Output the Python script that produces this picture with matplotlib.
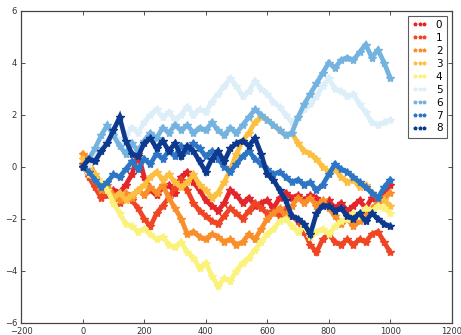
import matplotlib
matplotlib.use("Agg")
import matplotlib.pyplot as plt
from matplotlib.lines import Line2D

# sample positions (every 20 steps of the walk)
steps = list(range(0, 1001, 20))

walk_0 = [0.0, -0.3, -0.6, -1.0, -1.1, -0.9, -1.0, -0.7, -0.3, 0.5, -0.4, -0.9, -1.1,
          -0.8, -0.7, -1.0, -0.4, -0.2, -0.6, -0.9, -1.3, -1.5, -1.7, -1.4, -0.9, -1.1,
          -1.4, -1.2, -1.5, -1.4, -1.3, -1.6, -1.2, -1.0, -1.2, -1.1, -1.3, -1.1, -1.2,
          -1.4, -1.3, -1.6, -1.4, -1.7, -1.5, -1.3, -1.6, -1.2, -1.4, -1.0, -0.7]
walk_1 = [0.1, -0.4, -0.8, -1.2, -1.0, -1.2, -1.4, -1.1, -1.3, -1.6, -2.0, -2.3, -1.8,
          -1.5, -1.2, -0.8, -0.5, -0.9, -1.4, -1.7, -1.9, -2.1, -2.2, -1.9, -1.6, -1.8,
          -2.0, -1.7, -1.4, -1.6, -1.8, -1.7, -1.9, -1.6, -1.9, -2.1, -2.5, -3.0, -3.3,
          -2.8, -2.6, -2.9, -3.0, -2.8, -3.0, -2.8, -2.9, -2.6, -2.5, -2.9, -3.3]
walk_2 = [0.5, 0.3, -0.4, -0.9, -0.7, -1.1, -1.3, -1.0, -1.2, -0.9, -1.1, -0.8, -1.0,
          -0.7, -1.2, -1.6, -2.0, -2.6, -2.5, -2.7, -2.8, -2.6, -2.7, -2.9, -2.8, -3.0,
          -2.9, -2.6, -2.8, -2.4, -2.0, -1.8, -1.6, -1.9, -1.5, -1.2, -1.4, -1.2, -1.5,
          -1.3, -1.6, -1.9, -2.2, -2.0, -2.3, -2.1, -1.8, -1.6, -1.4, -1.2, -1.0]
walk_3 = [0.3, 0.0, -0.3, -0.6, -0.9, -1.2, -1.0, -1.3, -1.1, -0.9, -0.7, -0.4, -0.2,
          -0.5, -0.3, -0.6, -0.8, -0.6, -0.3, -0.7, -0.9, -1.2, -1.0, -0.6, -0.1, 0.5,
          1.0, 1.3, 1.7, 1.9, 1.8, 1.6, 1.4, 1.2, 1.3, 0.9, 0.6, 0.5, 0.3,
          0.0, -0.2, -0.1, -0.4, -0.6, -0.5, -0.8, -0.7, -1.0, -1.2, -1.3, -1.5]
walk_4 = [0.0, -0.3, -0.5, -0.6, -0.9, -1.4, -1.8, -2.2, -2.3, -2.5, -2.4, -2.6, -2.8,
          -2.7, -3.0, -3.1, -2.9, -3.3, -3.5, -3.9, -3.7, -4.2, -4.6, -4.3, -4.4, -4.0,
          -3.7, -3.5, -3.2, -2.9, -2.6, -2.4, -2.1, -2.0, -2.3, -2.5, -2.3, -2.7, -2.5,
          -2.4, -2.6, -2.3, -2.1, -2.0, -1.8, -1.9, -1.6, -1.7, -1.5, -1.6, -1.8]
walk_5 = [0.0, 0.1, 0.4, 0.7, 1.0, 1.3, 1.0, 1.2, 1.5, 1.3, 1.7, 2.0, 2.2,
          1.9, 2.1, 1.8, 2.0, 2.3, 2.0, 2.2, 2.1, 2.5, 2.8, 3.1, 3.4, 3.1,
          2.7, 2.9, 3.3, 3.0, 2.8, 2.5, 2.3, 2.0, 1.7, 1.9, 2.2, 2.4, 2.7,
          3.1, 3.4, 3.0, 2.9, 2.7, 2.8, 2.4, 2.1, 1.7, 1.6, 1.7, 1.8]
walk_6 = [0.0, 0.3, 0.7, 1.2, 1.6, 1.2, 0.8, 0.5, 0.9, 0.6, 1.0, 1.3, 1.1,
          1.5, 1.3, 1.6, 1.4, 1.6, 1.3, 1.5, 1.4, 1.7, 1.4, 1.2, 1.5, 1.3,
          1.6, 1.9, 2.2, 2.0, 1.8, 1.6, 1.4, 1.2, 1.3, 1.9, 2.4, 2.8, 3.2,
          3.6, 4.0, 3.8, 4.1, 4.2, 4.1, 4.4, 4.7, 4.2, 4.5, 4.0, 3.4]
walk_7 = [0.0, -0.2, -0.5, -0.8, -0.6, -0.3, -0.4, -0.1, 0.2, -0.1, 0.3, 0.1, 0.5,
          0.3, 0.6, 0.4, 0.8, 0.6, 0.9, 0.7, 0.4, 0.6, 0.3, 0.0, -0.2, 0.1,
          0.4, 0.6, 0.3, 0.1, -0.1, -0.3, -0.2, -0.4, -0.6, -0.5, -0.7, -0.6, -0.9,
          -0.7, -0.3, 0.1, -0.1, -0.2, -0.4, -0.6, -0.8, -1.0, -1.2, -0.8, -0.5]
walk_8 = [0.0, 0.3, 0.2, 0.6, 0.9, 1.4, 1.9, 1.0, 0.5, 0.4, 0.9, 1.1, 0.7,
          1.0, 0.6, 0.9, 0.4, 0.8, 0.6, 0.2, -0.2, 0.3, 0.6, 0.2, 0.7, 0.9,
          1.0, 0.8, 1.1, 0.5, -0.3, -0.5, -0.9, -1.3, -1.9, -2.0, -2.2, -2.6, -1.8,
          -1.5, -1.5, -1.7, -1.6, -1.9, -2.0, -1.8, -2.1, -1.8, -2.0, -2.2, -2.3]

walks = [walk_0, walk_1, walk_2, walk_3, walk_4, walk_5, walk_6, walk_7, walk_8]
labels = ["0", "1", "2", "3", "4", "5", "6", "7", "8"]
colors = ["#e3262b", "#f04524", "#f98e2b", "#fdbf3f", "#fbf27b",
          "#dceef8", "#74b3e0", "#2d76c5", "#0d3a8e"]

fig = plt.figure(figsize=(4.61, 3.35), dpi=100)
ax = fig.add_axes([0.046, 0.037, 0.934, 0.931])

for w, c in zip(walks, colors):
    ax.plot(steps, w, color=c, lw=3.4, solid_joinstyle="miter", zorder=2)
    ax.plot(steps, w, ls="none", marker="*", ms=6, color=c, mec=c, zorder=2)

ax.set_xlim(-200, 1200)
ax.set_ylim(-6, 6)
ax.set_xticks(range(-200, 1201, 200))
ax.set_yticks(range(-6, 7, 2))
ax.set_xticklabels([str(v).replace("-", "\u2212") for v in range(-200, 1201, 200)])
ax.set_yticklabels([str(v).replace("-", "\u2212") for v in range(-6, 7, 2)])
ax.tick_params(direction="in", top=True, right=True, length=3, width=0.6,
               labelsize=6, colors="#333333", pad=3)
for s in ax.spines.values():
    s.set_linewidth(0.9)
    s.set_color("#444444")

handles = [Line2D([], [], ls="none", marker="*", ms=2.6, color=c, mec=c) for c in colors]
leg = ax.legend(handles, labels, loc="upper right", numpoints=3, fontsize=7.5,
                frameon=True, fancybox=False, handlelength=1.5, handletextpad=0.8,
                labelspacing=0.28, borderpad=0.4, borderaxespad=0.5)
leg.get_frame().set_edgecolor("#333333")
leg.get_frame().set_linewidth(0.8)

fig.savefig("out.png", dpi=100)
